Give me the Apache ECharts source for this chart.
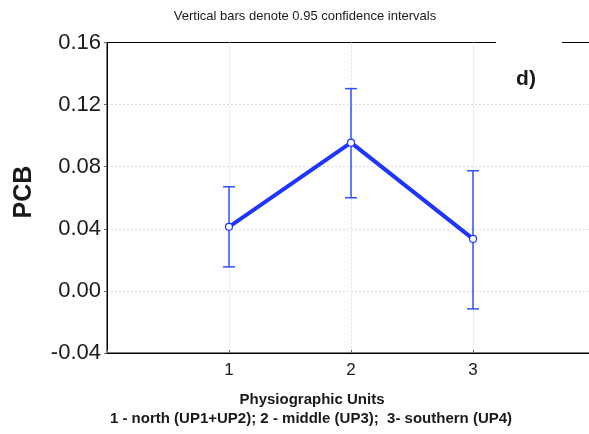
<!DOCTYPE html>
<html><head><meta charset="utf-8">
<script src="https://cdn.jsdelivr.net/npm/echarts@6/dist/echarts.min.js"></script>
<style>html,body{margin:0;padding:0;background:#fff}#c{width:589px;height:434px}</style>
</head><body><div id="c"></div>
<script>
const categories = [1, 2, 3];
const means = [0.0413, 0.0955, 0.0335];
const upper = [0.0671, 0.1303, 0.0774];
const lower = [0.0155, 0.0600, -0.0116];
const yTicks = [-0.04, 0.00, 0.04, 0.08, 0.12, 0.16];

const FONT = '"Liberation Sans", Arial, sans-serif';
const blue = '#1f35ff';
const chart = echarts.init(document.getElementById('c'));
chart.setOption({
  animation: false,
  backgroundColor: '#fff',
  grid: { left: 107, top: 42.5, right: -6, bottom: 81, show: true, borderColor: '#000', borderWidth: 1,
    containLabel: false, outerBoundsMode: 'none' },
  xAxis: {
    type: 'value', min: 0, max: 4, interval: 1,
    axisLine: { onZero: false, lineStyle: { color: '#000', width: 1 } },
    axisTick: { show: true, inside: true, length: 3, lineStyle: { color: '#666' } },
    axisLabel: { fontFamily: FONT, fontSize: 17, color: '#1a1a1a', margin: 9,
      formatter: v => categories.includes(v) ? String(v) : '' },
    splitLine: { show: true, showMinLine: false, showMaxLine: false, lineStyle: { color: '#ddd', type: [2, 2], width: 1 } }
  },
  yAxis: {
    type: 'value', min: yTicks[0], max: yTicks[yTicks.length - 1], interval: 0.04,
    axisLine: { show: true, onZero: false, lineStyle: { color: '#000', width: 1 } },
    axisTick: { show: true, inside: false, length: 3, lineStyle: { color: '#666' } },
    axisLabel: { fontFamily: FONT, fontSize: 22, color: '#1a1a1a', margin: 6,
      formatter: v => v.toFixed(2) },
    splitLine: { show: true, showMinLine: false, showMaxLine: false, lineStyle: { color: '#ddd', type: [2, 2], width: 1 } }
  },
  series: [
    {
      type: 'custom', z: 3,
      data: categories.map((c, i) => [c, lower[i], upper[i]]),
      renderItem: (params, api) => {
        const x = api.value(0);
        const lo = api.coord([x, api.value(1)]);
        const hi = api.coord([x, api.value(2)]);
        const hw = 6;
        const st = { stroke: '#3050ff', lineWidth: 1.5 };
        return { type: 'group', children: [
          { type: 'line', shape: { x1: lo[0], y1: lo[1], x2: hi[0], y2: hi[1] }, style: st },
          { type: 'line', shape: { x1: hi[0] - hw, y1: hi[1], x2: hi[0] + hw, y2: hi[1] }, style: st },
          { type: 'line', shape: { x1: lo[0] - hw, y1: lo[1], x2: lo[0] + hw, y2: lo[1] }, style: st }
        ]};
      }
    },
    {
      type: 'line', z: 5,
      data: categories.map((c, i) => [c, means[i]]),
      lineStyle: { color: blue, width: 4 },
      itemStyle: { color: '#fff', borderColor: blue, borderWidth: 1.2 },
      symbol: 'circle', symbolSize: 7, showSymbol: true
    }
  ],
  graphic: [
    { type: 'rect', z: 100, shape: { x: 496, y: 39, width: 66, height: 7 }, style: { fill: '#fff' } },
    { type: 'text', z: 101, x: 305, y: 16, style: { text: 'Vertical bars denote 0.95 confidence intervals',
      font: '13px ' + FONT, fill: '#1a1a1a', textAlign: 'center', textVerticalAlign: 'middle' } },
    { type: 'text', z: 101, x: 526, y: 79, style: { text: 'd)',
      font: 'bold 21px ' + FONT, fill: '#1a1a1a', textAlign: 'center', textVerticalAlign: 'middle' } },
    { type: 'text', z: 101, x: 24, y: 192, rotation: Math.PI / 2, style: { text: 'PCB',
      font: 'bold 25px ' + FONT, fill: '#1a1a1a', textAlign: 'center', textVerticalAlign: 'middle' } },
    { type: 'text', z: 101, x: 312, y: 400, style: { text: 'Physiographic Units',
      font: 'bold 15px ' + FONT, fill: '#1a1a1a', textAlign: 'center', textVerticalAlign: 'middle' } },
    { type: 'text', z: 101, x: 311, y: 419, style: { text: '1 - north (UP1+UP2); 2 - middle (UP3);  3- southern (UP4)',
      font: 'bold 15px ' + FONT, fill: '#1a1a1a', textAlign: 'center', textVerticalAlign: 'middle' } }
  ]
});
</script></body></html>
